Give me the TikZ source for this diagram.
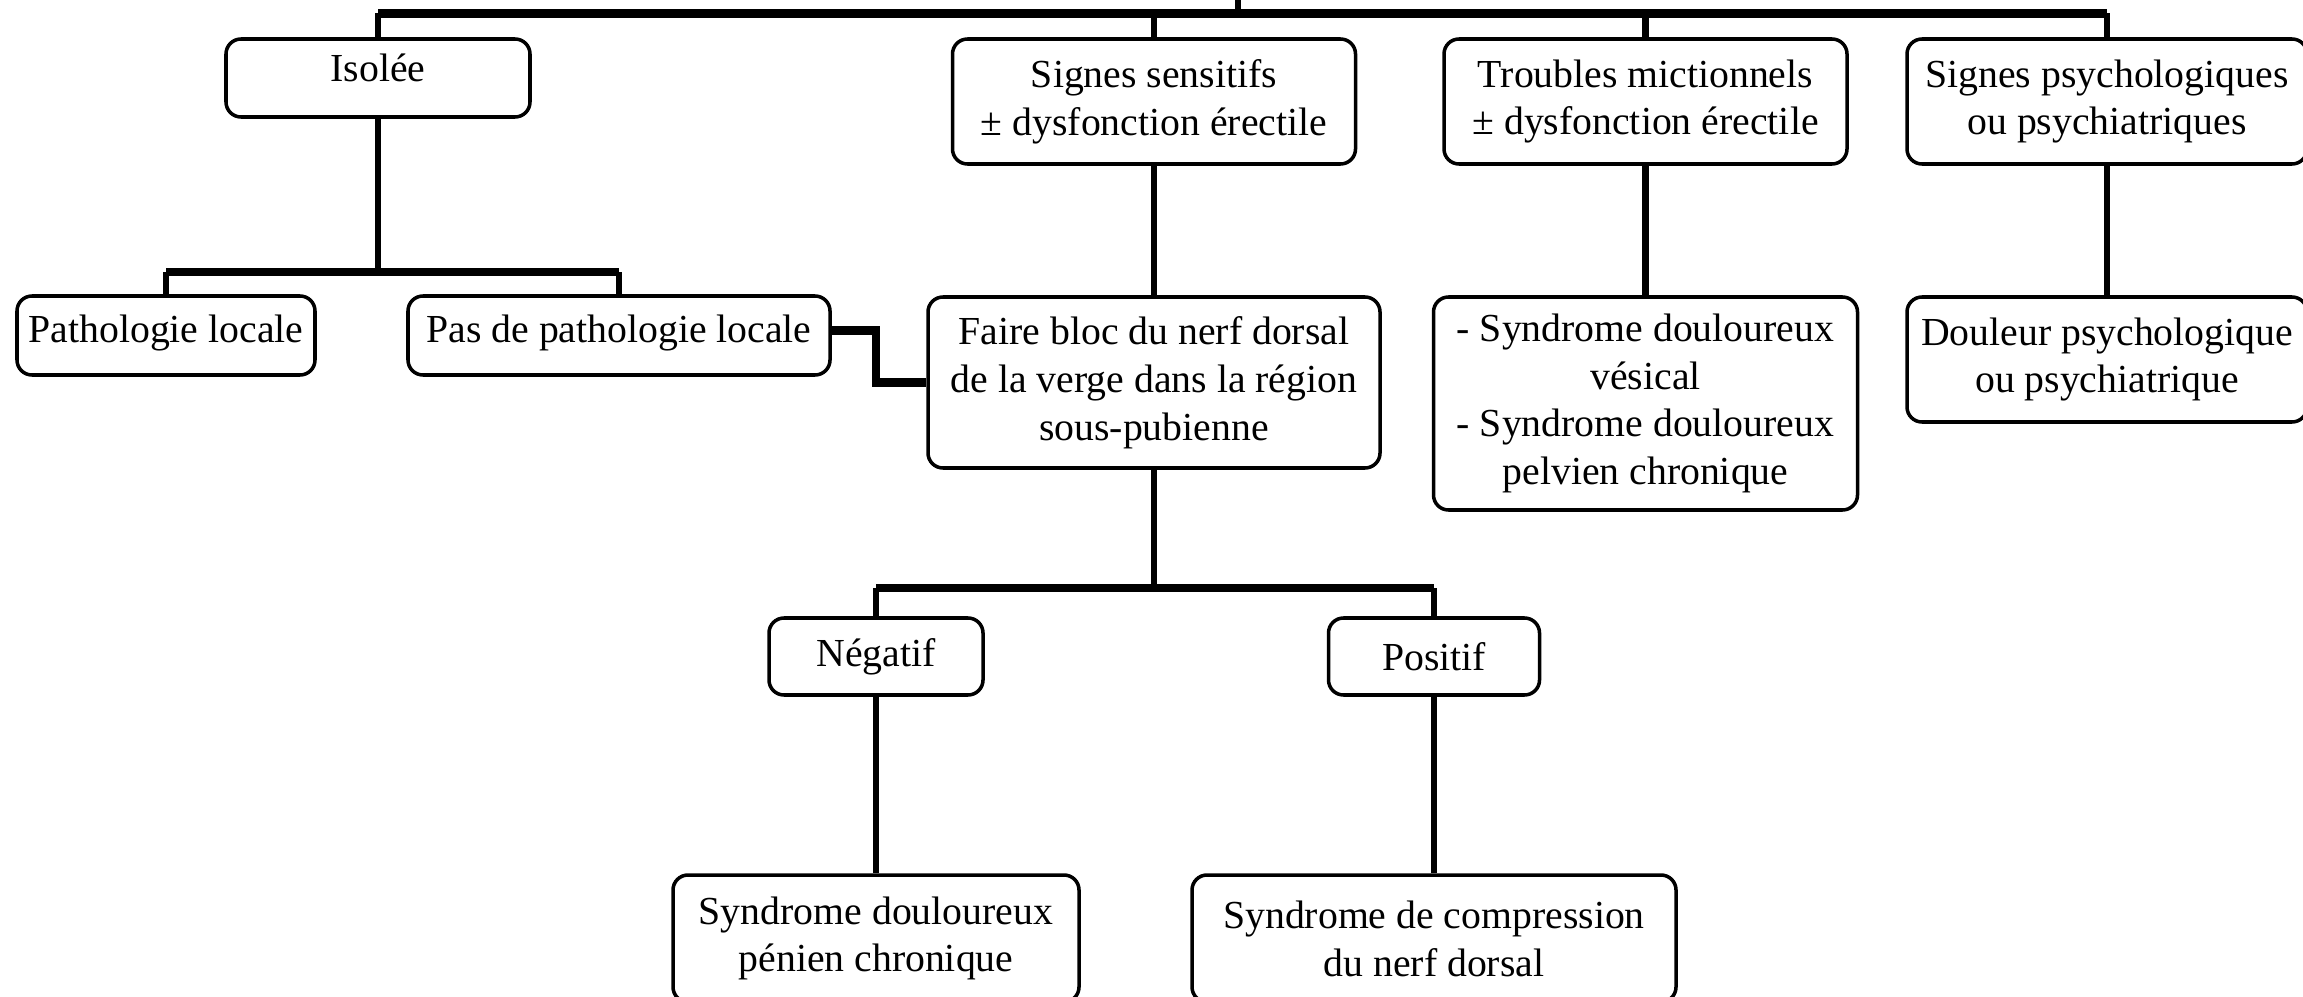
\documentclass[tikz,border=0pt]{standalone}
\usepackage{fontspec}
\setmainfont{Liberation Serif}
\begin{document}
\begin{tikzpicture}[x=0.01cm, y=-0.01cm,
  box/.style 2 args={draw=black, line width=1pt, rounded corners=0.15cm,
    minimum width=#1*0.01cm, minimum height=#2*0.01cm, inner sep=2pt,
    align=center, font=\fontsize{11.3}{13.6}\selectfont},
  link/.style={line width=1.8pt},
  bus/.style={line width=2.5pt}]
\useasboundingbox (0,0) rectangle (2303,997);
\clip (0,0) rectangle (2303,997);

% first row
\node[box={304}{78}, text depth=5.6pt] (iso) at (378,78) {Isolée};
\node[box={403}{125}] (sig) at (1154,101.5) {Signes sensitifs\\± dysfonction érectile};
\node[box={403}{125}] (tro) at (1645.5,101.5) {Troubles mictionnels\\± dysfonction érectile};
\node[box={400}{125}] (psy) at (2107,101.5) {Signes psychologiques\\ou psychiatriques};

% second row
\node[box={298}{79}, text depth=4pt] (pat) at (166,335.5) {Pathologie locale};
\node[box={422}{79}, text depth=4pt] (pas) at (619,335.5) {Pas de pathologie locale};
\node[box={452}{171}] (blo) at (1154,382.5) {Faire bloc du nerf dorsal\\de la verge dans la région\\sous-pubienne};
\node[box={424}{213}] (ves) at (1645.5,403.5) {- Syndrome douloureux\\vésical\\- Syndrome douloureux\\pelvien chronique};
\node[box={400}{125}] (dou) at (2107,359.5) {Douleur psychologique\\ou psychiatrique};

% test result
\node[box={214}{77}]  (neg) at (876,656.5) {Négatif};
\node[box={211}{77}]  (pos) at (1434,656.5) {Positif};

% final diagnoses
\node[box={406}{127}] (pen) at (876,938.5) {Syndrome douloureux\\pénien chronique};
\node[box={484}{127}] (cmp) at (1434,938.5) {Syndrome de compression\\du nerf dorsal};

% junction levels
\coordinate (top)   at (1238,0);
\coordinate (busT)  at (1238,13.5);
\coordinate (busA)  at (0,272);
\coordinate (busB)  at (0,588);
\coordinate (elbow) at (876,0);

% top trunk and bus
\draw[link] (top) -- (busT);
\draw[bus] (iso.north |- busT) -- (psy.north |- busT);
\foreach \n in {iso,sig,tro,psy} \draw[link] (\n.north |- busT) -- (\n.north);

% isolated pain
\draw[link] (iso.south) -- (iso.south |- busA);
\draw[bus] (pat.north |- busA) -- (pas.north |- busA);
\draw[link] (pat.north |- busA) -- (pat.north);
\draw[link] (pas.north |- busA) -- (pas.north);
\draw[bus] ([yshift=0.05cm]pas.east) -- ([yshift=0.05cm]pas.east -| elbow) |- (blo.west);

% other branches
\draw[link] (sig.south) -- (blo.north);
\draw[link] (tro.south) -- (ves.north);
\draw[link] (psy.south) -- (dou.north);

% nerve block result
\draw[link] (blo.south) -- (blo.south |- busB);
\draw[bus] (neg.north |- busB) -- (pos.north |- busB);
\draw[link] (neg.north |- busB) -- (neg.north);
\draw[link] (pos.north |- busB) -- (pos.north);
\draw[link] (neg.south) -- (pen.north);
\draw[link] (pos.south) -- (cmp.north);
\end{tikzpicture}
\end{document}
